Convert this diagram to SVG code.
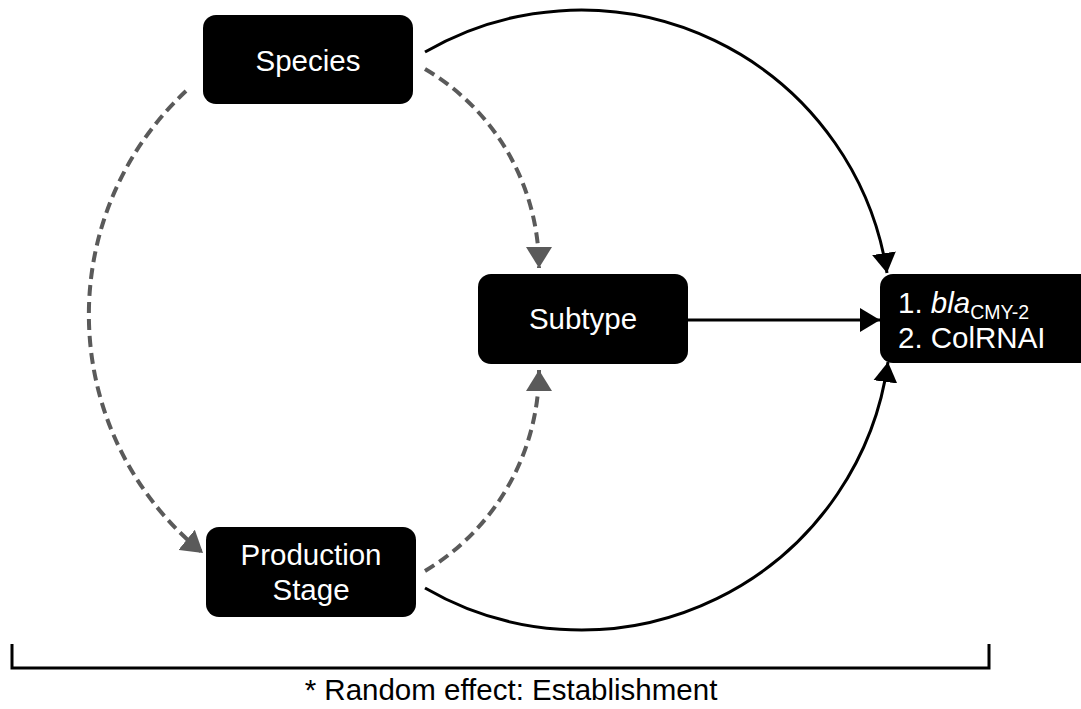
<svg xmlns="http://www.w3.org/2000/svg" width="1081" height="709" viewBox="0 0 1081 709">
<style>
.box{fill:#000;}
.lbl{font-family:"Liberation Sans",Arial,sans-serif;font-size:29.5px;fill:#fff;text-anchor:middle;}
.lbl2{font-family:"Liberation Sans",Arial,sans-serif;font-size:29.5px;fill:#fff;}
.solid{fill:none;stroke:#000;stroke-width:3;}
.dash{fill:none;stroke:#5a5a5a;stroke-width:4;stroke-dasharray:11,6;}
.note{font-family:"Liberation Sans",Arial,sans-serif;font-size:29.5px;fill:#000;text-anchor:middle;}
</style>
<defs>
<marker id="ab" markerUnits="userSpaceOnUse" markerWidth="20" markerHeight="24" viewBox="0 0 20 24" refX="20" refY="12" orient="auto">
<path d="M0,0 L20,12 L0,24 z" fill="#000"/>
</marker>
<marker id="ag" markerUnits="userSpaceOnUse" markerWidth="21" markerHeight="26" viewBox="0 0 21 26" refX="21" refY="13" orient="auto">
<path d="M0,0 L21,13 L0,26 z" fill="#5a5a5a"/>
</marker>
</defs>
<g id="connectors">
<path class="solid" d="M425,52 A310,310 0 0 1 887,273" marker-end="url(#ab)"/>
<path class="solid" d="M425,588 A310,310 0 0 0 888,362" marker-end="url(#ab)"/>
<path class="solid" d="M688,320 L880,320" marker-end="url(#ab)"/>
<path class="dash" d="M186,91 A306,306 0 0 0 203,553" marker-end="url(#ag)"/>
<path class="dash" d="M425,69 A231,231 0 0 1 539,268" marker-end="url(#ag)"/>
<path class="dash" d="M425,571 A234,234 0 0 0 539,370" marker-end="url(#ag)"/>
</g>
<g id="species">
<rect class="box" x="203" y="15" width="210" height="89" rx="13"/>
<text class="lbl" x="308" y="71">Species</text>
</g>
<g id="subtype">
<rect class="box" x="478" y="274" width="210" height="90" rx="13"/>
<text class="lbl" x="583" y="329">Subtype</text>
</g>
<g id="production-stage">
<rect class="box" x="206" y="527" width="210" height="90" rx="13"/>
<text class="lbl" x="311" y="565">Production</text>
<text class="lbl" x="311" y="600">Stage</text>
</g>
<g id="outcome">
<rect class="box" x="880" y="274" width="220" height="89" rx="13"/>
<text class="lbl2" x="898" y="313">1. <tspan font-style="italic">bla</tspan><tspan font-size="19.5" dy="6">CMY-2</tspan></text>
<text class="lbl2" x="898" y="348">2. ColRNAI</text>
</g>
<g id="bracket">
<path d="M12,644 L12,668 L989,668 L989,644" fill="none" stroke="#000" stroke-width="3"/>
<text class="note" x="511" y="700">* Random effect: Establishment</text>
</g>
</svg>
